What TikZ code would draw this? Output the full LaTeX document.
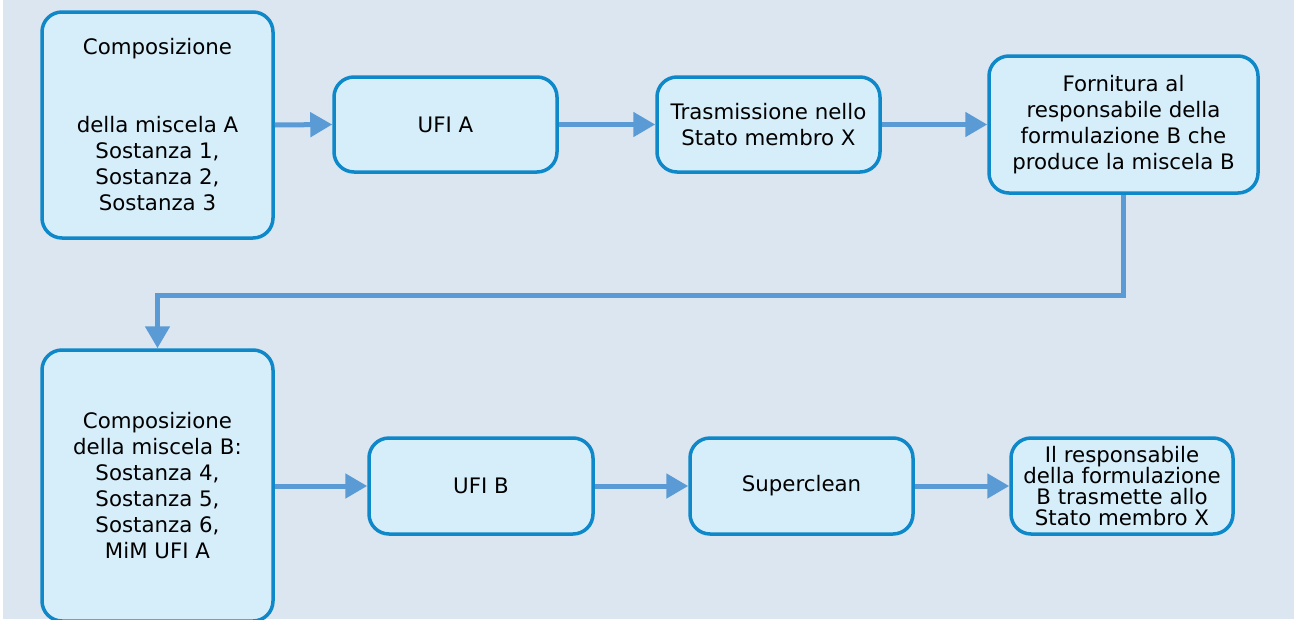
\documentclass[tikz,border=0pt]{standalone}
\usepackage{fontspec}
\setmainfont{DejaVu Sans}
\usetikzlibrary{arrows.meta}
\definecolor{bgc}{HTML}{DCE6F1}
\definecolor{boxfill}{HTML}{D6EEFA}
\definecolor{boxline}{HTML}{0E88C9}
\definecolor{arrc}{HTML}{5B9BD5}
\tikzset{
  box/.style={draw=boxline, fill=boxfill, line width=3.5pt, rounded corners=20pt,
    align=center, inner sep=0pt, text=black,
    font=\fontsize{21.33}{26}\selectfont},
  tightbox/.style={box, font=\fontsize{21.33}{21.3}\selectfont},
  arr/.style={draw=arrc, line width=5pt, -{Triangle[length=22pt,width=24pt]}}
}
\begin{document}
\begin{tikzpicture}[x=1pt,y=-1pt]
\useasboundingbox (0,0) rectangle (1294,619);
\clip (0,0) rectangle (1294,619);
\fill[white] (0,0) rectangle (1294,619);
\fill[bgc] (3,0) rectangle (1294,619);

\node[box, minimum width=231pt, minimum height=226pt] (b1) at (157.5,125)
  {Composizione\\[52pt]della miscela A\\Sostanza 1,\\Sostanza 2,\\Sostanza 3};
\node[box, minimum width=223pt, minimum height=95pt] (b2) at (445.5,124.5) {UFI A};
\node[box, minimum width=223pt, minimum height=95pt] (b3) at (768.5,124.5)
  {Trasmissione nello\\Stato membro X};
\node[box, minimum width=269pt, minimum height=137pt] (b4) at (1123.5,124.5)
  {Fornitura al\\responsabile della\\formulazione B che\\produce la miscela B};

\node[box, minimum width=231pt, minimum height=271pt] (b5) at (157.5,485.5)
  {Composizione\\della miscela B:\\Sostanza 4,\\Sostanza 5,\\Sostanza 6,\\MiM UFI A};
\node[box, minimum width=224pt, minimum height=96pt] (b6) at (481,486) {UFI B};
\node[box, minimum width=223pt, minimum height=96pt] (b7) at (801.5,486) {Superclean};
\node[tightbox, minimum width=222pt, minimum height=96pt] (b8) at (1122,486)
  {Il responsabile\\della formulazione\\B trasmette allo\\Stato membro X};

\draw[arr] (b1.east) -- (b2.west);
\draw[arr] (b2.east) -- (b3.west);
\draw[arr] (b3.east) -- (b4.west);
\coordinate (k) at (157.5,295);
\draw[arr] (b4.south) |- (k) -- (b5.north);
\draw[arr] (b5.east |- b6.west) -- (b6.west);
\draw[arr] (b6.east) -- (b7.west);
\draw[arr] (b7.east) -- (b8.west);
\end{tikzpicture}
\end{document}
